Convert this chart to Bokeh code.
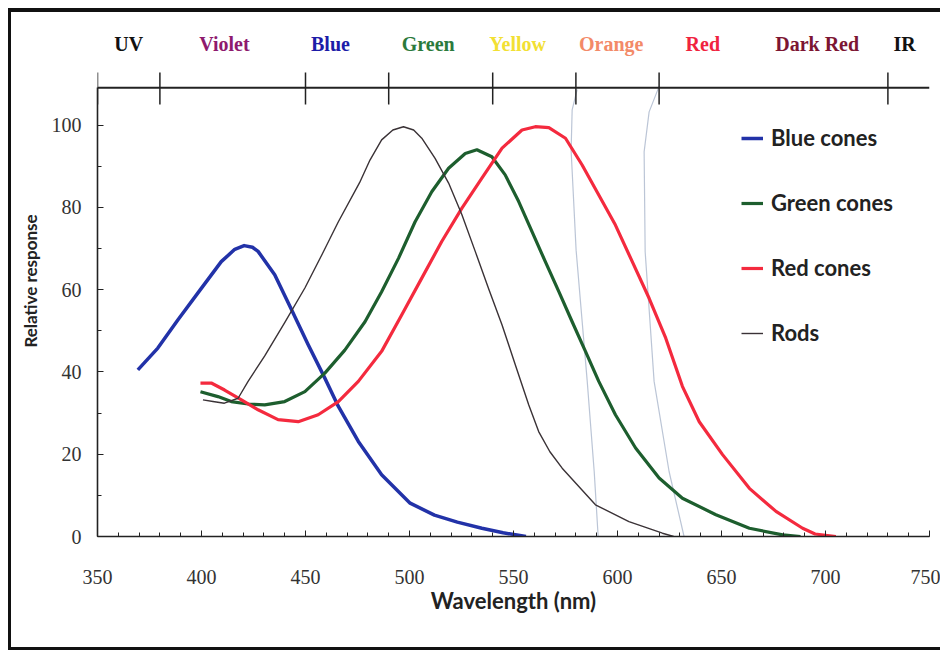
from bokeh.plotting import figure
from bokeh.models import Legend, LegendItem, SingleIntervalTicker
from bokeh.embed import file_html
from bokeh.resources import INLINE
from bokeh.core.properties import value

# ---------------- data ----------------
wavelength_range = (350, 750)
response_range_top = 124.2

blue_nm = [369.4, 379.0, 388.7, 399.9, 409.5, 416.0, 420.5, 424.5, 427.2, 435.2, 443.3, 451.3, 459.3, 465.8,
           475.4, 486.6, 500.3, 512.0, 523.0, 534.8, 545.0, 556.0]
blue_resp = [40.5, 45.8, 52.7, 60.3, 66.8, 69.8, 70.7, 70.3, 69.3, 63.6, 55.1, 46.6, 38.5, 31.6,
             23.1, 15.0, 8.1, 5.2, 3.5, 2.0, 0.9, 0.0]

green_nm = [399.5, 407.9, 414.3, 422.4, 430.4, 440.0, 449.7, 459.3, 468.9, 478.6, 486.6, 494.7, 502.7, 510.7,
            518.8, 526.8, 532.4, 539.6, 546.0, 552.5, 558.9, 565.3, 571.8, 578.2, 584.6, 591.0, 599.0, 608.7,
            620.0, 631.2, 647.3, 663.4, 679.4, 688.0]
green_resp = [35.2, 34.0, 32.8, 32.2, 32.0, 32.8, 35.2, 39.7, 45.3, 52.2, 59.5, 67.6, 76.5, 83.8,
              89.5, 93.1, 94.0, 92.3, 87.9, 81.4, 74.1, 66.8, 59.5, 52.2, 45.0, 37.7, 29.6, 21.5,
              14.2, 9.3, 5.3, 2.0, 0.4, 0.0]

red_nm = [399.5, 404.7, 411.1, 419.2, 427.2, 436.8, 446.5, 456.1, 465.8, 475.4, 486.6, 496.3, 505.9, 515.5,
          525.2, 534.8, 544.5, 554.1, 560.5, 567.0, 575.0, 583.0, 591.0, 599.0, 607.1, 615.2, 623.2, 631.2,
          639.3, 650.5, 663.4, 676.2, 689.0, 695.0, 705.0]
red_resp = [37.3, 37.3, 35.6, 33.2, 30.8, 28.4, 27.9, 29.6, 32.8, 37.7, 45.0, 53.9, 62.8, 71.7,
            79.8, 87.1, 94.4, 98.8, 99.6, 99.4, 96.8, 90.3, 83.0, 75.7, 66.8, 57.9, 48.2, 36.5,
            27.9, 19.9, 11.7, 6.1, 2.0, 0.6, 0.0]

rods_nm = [400.7, 405.5, 411.0, 417.6, 422.4, 430.4, 440.0, 449.7, 457.7, 465.8, 476.0, 481.0, 486.6, 492.0,
           497.1, 502.0, 505.9, 512.3, 518.8, 525.2, 531.6, 538.0, 544.5, 550.9, 557.3, 562.1, 567.5, 573.4,
           589.4, 605.5, 621.6, 627.0]
rods_resp = [33.2, 32.8, 32.4, 33.6, 37.7, 43.9, 52.0, 60.4, 68.3, 76.5, 86.0, 91.5, 96.4, 98.8,
             99.6, 98.8, 96.8, 91.9, 85.9, 78.2, 69.3, 60.3, 51.4, 41.7, 32.0, 25.5, 20.6, 16.6,
             7.7, 3.6, 0.8, 0.0]

# faint hand-drawn pencil marks on the scan
pencil1_nm = [580.6, 578.2, 577.7, 580.1, 585.4, 588.8, 590.7]
pencil1_resp = [108.6, 103.7, 93.9, 69.6, 38.0, 15.8, 0.0]
pencil2_nm = [620.0, 615.2, 612.8, 613.3, 617.6, 624.8, 632.0]
pencil2_resp = [109.4, 103.2, 93.5, 69.2, 37.7, 15.8, 0.0]

band_level = 109.1
band_edges = [350, 380, 450, 490, 540, 580, 620, 730]
band_names = ["UV", "Violet", "Blue", "Green", "Yellow", "Orange", "Red", "Dark Red", "IR"]
band_label_nm = [365, 411, 462, 509, 552, 597, 641, 696, 738]
band_label_level = 119.8
band_colors = ["#111111", "#8e1a6e", "#1c1ca8", "#2b7a3c", "#f2e033", "#f38a68", "#f0233f", "#7c1532", "#111111"]

series_names = ["Blue cones", "Green cones", "Red cones", "Rods"]

# ---------------- figure ----------------
p = figure(width=932, height=642,
           x_range=wavelength_range, y_range=(0, response_range_top),
           output_backend="svg", toolbar_location=None,
           min_border_left=86, min_border_right=14,
           min_border_top=13, min_border_bottom=118)
p.styles = {"border-top": "4px solid #111111", "border-left": "3px solid #111111",
            "border-bottom": "3px solid #111111", "margin": "8px 0 0 8px"}
p.outline_line_color = None
p.grid.visible = False
p.background_fill_color = "white"
p.border_fill_color = "white"

# pencil marks
p.line(pencil1_nm, pencil1_resp, line_color="#aab6cc", line_width=1.2, line_alpha=0.8)
p.line(pencil2_nm, pencil2_resp, line_color="#aab6cc", line_width=1.2, line_alpha=0.8)

r_blue = p.line(blue_nm, blue_resp, line_color="#2232a8", line_width=3.5, line_join="round")
r_green = p.line(green_nm, green_resp, line_color="#1d5e2e", line_width=3.2, line_join="round")
r_red = p.line(red_nm, red_resp, line_color="#f42a3e", line_width=3.2, line_join="round")
r_rods = p.line(rods_nm, rods_resp, line_color="#3a3236", line_width=1.4, line_join="round")

# colour band on top
p.line([wavelength_range[0], wavelength_range[1]], [band_level, band_level], line_color="#222222", line_width=2)
n = len(band_edges)
p.segment(x0=band_edges, y0=[band_level - 4.1] * n, x1=band_edges, y1=[band_level + 3.7] * n,
          line_color="#222222", line_width=1.5)
p.text(x=band_label_nm, y=[band_label_level] * len(band_names), text=band_names,
       text_color=band_colors, text_align="center", text_baseline="middle",
       text_font=value("Liberation Serif"), text_font_size="20px", text_font_style="bold")

# axes
p.xaxis.ticker = SingleIntervalTicker(interval=50, num_minor_ticks=5)
p.yaxis.ticker = SingleIntervalTicker(interval=20, num_minor_ticks=2)
p.xaxis.bounds = wavelength_range
p.yaxis.bounds = (0, band_level)
for ax in (p.xaxis[0], p.yaxis[0]):
    ax.axis_line_color = "#222222"
    ax.axis_line_width = 1.6
    ax.major_tick_in = 6
    ax.major_tick_out = 0
    ax.minor_tick_in = 4
    ax.minor_tick_out = 0
    ax.major_tick_line_color = "#222222"
    ax.minor_tick_line_color = "#222222"
    ax.major_label_text_font = "Liberation Serif"
    ax.major_label_text_font_size = "20px"
    ax.major_label_text_color = "#333333"
    ax.axis_label_text_font = "Lato"
    ax.axis_label_text_font_style = "bold"
    ax.axis_label_text_color = "#222222"
p.xaxis.major_label_standoff = 33
p.yaxis.major_label_standoff = 16

p.xaxis.axis_label = "Wavelength (nm)"
p.xaxis.axis_label_text_font_size = "22px"
p.xaxis.axis_label_standoff = 0

p.yaxis.axis_label = "Relative response"
p.yaxis.axis_label_text_font_size = "17px"
p.yaxis.axis_label_standoff = 8

legend = Legend(items=[LegendItem(label=series_names[0], renderers=[r_blue]),
                       LegendItem(label=series_names[1], renderers=[r_green]),
                       LegendItem(label=series_names[2], renderers=[r_red]),
                       LegendItem(label=series_names[3], renderers=[r_rods])],
                location=(644, 190), border_line_color=None, background_fill_alpha=0,
                label_text_font="Lato", label_text_font_size="22px", label_text_font_style="bold",
                label_text_color="#222222",
                glyph_width=22, glyph_height=20, label_height=20, spacing=38,
                padding=0, margin=0, label_standoff=8)
p.add_layout(legend)

open("out.html", "w").write(file_html(p, INLINE))
